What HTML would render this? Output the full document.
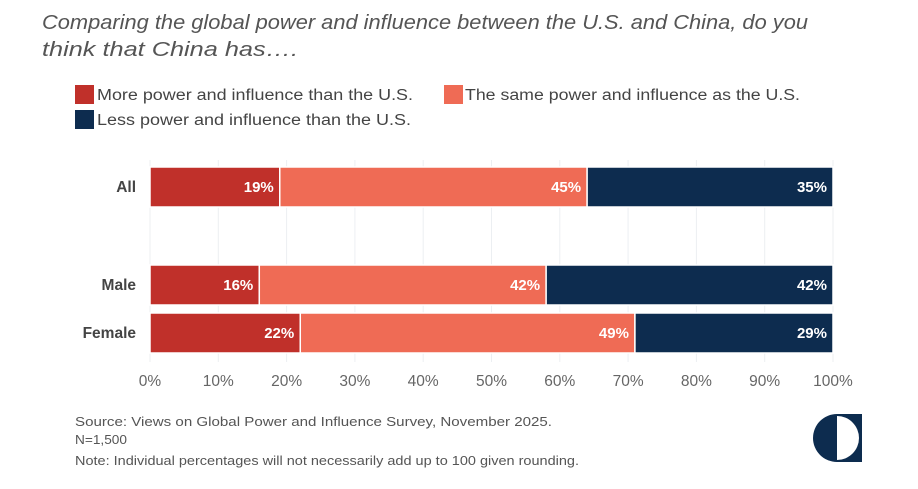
<!DOCTYPE html>
<html><head><meta charset="utf-8"><style>
body{margin:0;background:#fff;width:918px;height:484px;overflow:hidden;font-family:"Liberation Sans",sans-serif}
</style></head><body>
<svg width="918" height="484" xmlns="http://www.w3.org/2000/svg">
<text x="42" y="29" font-size="20.5" font-style="italic" fill="#555" textLength="766" lengthAdjust="spacingAndGlyphs">Comparing the global power and influence between the U.S. and China, do you</text>
<text x="42" y="56" font-size="20.5" font-style="italic" fill="#555" textLength="256" lengthAdjust="spacingAndGlyphs">think that China has….</text>
<g font-size="15.5" fill="#444">
<rect x="75" y="85" width="19" height="19" fill="#c0302a"/>
<text x="97" y="100" textLength="316" lengthAdjust="spacingAndGlyphs">More power and influence than the U.S.</text>
<rect x="444" y="85" width="19" height="19" fill="#ef6b55"/>
<text x="465" y="100" textLength="335" lengthAdjust="spacingAndGlyphs">The same power and influence as the U.S.</text>
<rect x="75" y="110" width="19" height="19" fill="#0d2c4f"/>
<text x="97" y="125" textLength="314" lengthAdjust="spacingAndGlyphs">Less power and influence than the U.S.</text>
</g>
<g id="grid"></g><g id="bars"></g><g id="ticks"></g>
<g font-size="12.5" fill="#555">
<text x="75" y="426" textLength="477" lengthAdjust="spacingAndGlyphs">Source: Views on Global Power and Influence Survey, November 2025.</text>
<text x="75" y="444" textLength="52" lengthAdjust="spacingAndGlyphs">N=1,500</text>
<text x="75" y="465" textLength="504" lengthAdjust="spacingAndGlyphs">Note: Individual percentages will not necessarily add up to 100 given rounding.</text>
</g>
<g>
<path d="M837 414 A24 24 0 0 0 837 462 Z" fill="#0d2c4f"/>
<path d="M837 414 L862 414 L862 462 L837 462 L837 460 A22 22 0 0 0 837 416 Z" fill="#0d2c4f"/>
</g>
</svg>
<script>
var categories=["All","Male","Female"];
var moreVals=[19,16,22];
var sameVals=[45,42,49];
var lessVals=[35,42,29];
var tickVals=[0,10,20,30,40,50,60,70,80,90,100];
var NS="http://www.w3.org/2000/svg";
var x0=150,x1=833;
function xs(v){return x0+(x1-x0)*v/100;}
var barY=[167,265,313],barH=40;
var colors=["#c0302a","#ef6b55","#0d2c4f"];
function mk(t,a,p){var e=document.createElementNS(NS,t);for(var k in a)e.setAttribute(k,a[k]);p.appendChild(e);return e;}
var grid=document.getElementById('grid'),bars=document.getElementById('bars'),ticks=document.getElementById('ticks');
tickVals.forEach(function(v){
 var l=mk('line',{x1:xs(v),x2:xs(v),y1:160,y2:362,stroke:'#eceff2','stroke-width':1},grid);
 
 
 var t=mk('text',{x:xs(v),y:386,'text-anchor':'middle','font-size':15.5,fill:'#666'},ticks);
 t.textContent=v+'%';
 
 
});
categories.forEach(function(c,i){
 var y=barY[i];
 var lab=mk('text',{x:136,y:y+barH/2+5,'text-anchor':'end','font-size':15.5,'font-weight':'bold',fill:'#444'},bars);
 lab.textContent=c;
 
 
 var vals=[moreVals[i],sameVals[i],lessVals[i]];
 var start=0;
 vals.forEach(function(v,j){
  var end=(j==2)?100:start+v;
  var r=mk('rect',{x:xs(start),y:y,width:xs(end)-xs(start),height:barH,fill:colors[j],stroke:'#fff','stroke-width':1.5},bars);
  
  
  var t=mk('text',{x:xs(end)-6,y:y+barH/2+5,'text-anchor':'end','font-size':15,'font-weight':'bold',fill:'#fff'},bars);
  t.textContent=v+'%';
  
  
  start=end;
 });
});
</script>
</body></html>
